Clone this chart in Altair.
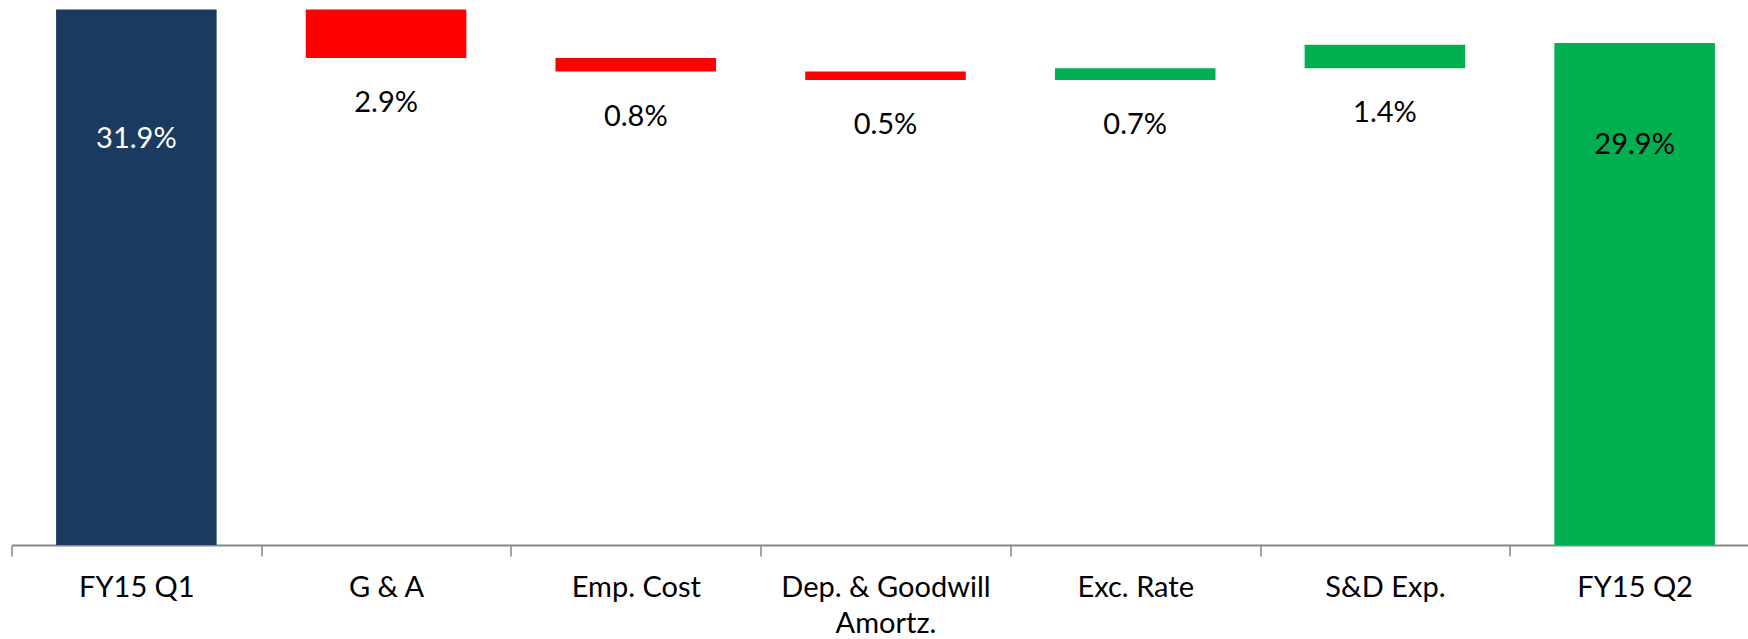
import altair as alt
import pandas as pd

categories = ["FY15 Q1", "G & A", "Emp. Cost", "Dep. & Goodwill|Amortz.", "Exc. Rate", "S&D Exp.", "FY15 Q2"]
changes = [31.9, -2.9, -0.8, -0.5, 0.7, 1.4, 29.9]
kinds = ["start", "decrease", "decrease", "decrease", "increase", "increase", "end"]

rows = []
level = 0.0
for c, v, k in zip(categories, changes, kinds):
    if k in ("start", "end"):
        lo, hi = 0.0, v
        level = v
    else:
        lo, hi = level, level + v
        level += v
    rows.append(dict(category=c, kind=k, y0=min(lo, hi), y1=max(lo, hi), label=f"{abs(v):.1f}%"))
df = pd.DataFrame(rows)

FONT = "Lato"
FS = 29

x = alt.X(
    "category:N",
    sort=categories,
    scale=alt.Scale(range=[0, 1748], paddingInner=0, paddingOuter=0),
    axis=alt.Axis(
        title=None,
        labelAngle=0,
        tickBand="extent",
        domainColor="#868686",
        domainWidth=2,
        tickColor="#868686",
        tickWidth=1.5,
        tickSize=11,
        labelFont=FONT,
        labelFontSize=FS,
        labelColor="#000000",
        labelPadding=17,
        labelLimit=0,
        labelExpr="split(datum.label, '|')",
        labelLineHeight=36,
        labelBaseline="top",
    ),
)
yscale = alt.Scale(domain=[0, 32.46], nice=False, zero=True)

base = alt.Chart(df)

bars = base.mark_bar(width=alt.RelativeBandSize(0.643)).encode(
    x=x,
    y=alt.Y("y0:Q", scale=yscale, axis=None),
    y2="y1:Q",
    color=alt.Color(
        "kind:N",
        scale=alt.Scale(
            domain=["start", "decrease", "increase", "end"],
            range=["#1B3A5F", "#FF0000", "#00B050", "#00B050"],
        ),
        legend=None,
    ),
)

delta_labels = base.transform_filter(
    "datum.kind == 'decrease' || datum.kind == 'increase'"
).mark_text(font=FONT, fontSize=FS, color="#000000", baseline="middle", dy=45).encode(
    x=alt.X("category:N", sort=categories),
    y=alt.Y("y0:Q", scale=yscale),
    text="label:N",
)

start_label = base.transform_filter("datum.kind == 'start'").mark_text(
    font=FONT, fontSize=FS, color="#FFFFFF", baseline="middle", dy=130
).encode(
    x=alt.X("category:N", sort=categories),
    y=alt.Y("y1:Q", scale=yscale),
    text="label:N",
)

end_label = base.transform_filter("datum.kind == 'end'").mark_text(
    font=FONT, fontSize=FS, color="#000000", baseline="middle", dy=102
).encode(
    x=alt.X("category:N", sort=categories),
    y=alt.Y("y1:Q", scale=yscale),
    text="label:N",
)

chart = (
    alt.layer(bars, delta_labels, start_label, end_label)
    .properties(
        width=1736,
        height=545,
        autosize=alt.AutoSizeParams(type="none"),
        padding={"left": 11.5, "top": 0, "right": 0, "bottom": 94},
        background="#FFFFFF",
    )
    .configure_view(strokeWidth=0)
)

chart.save("out.html", embed_options={"renderer": "svg", "actions": False})
